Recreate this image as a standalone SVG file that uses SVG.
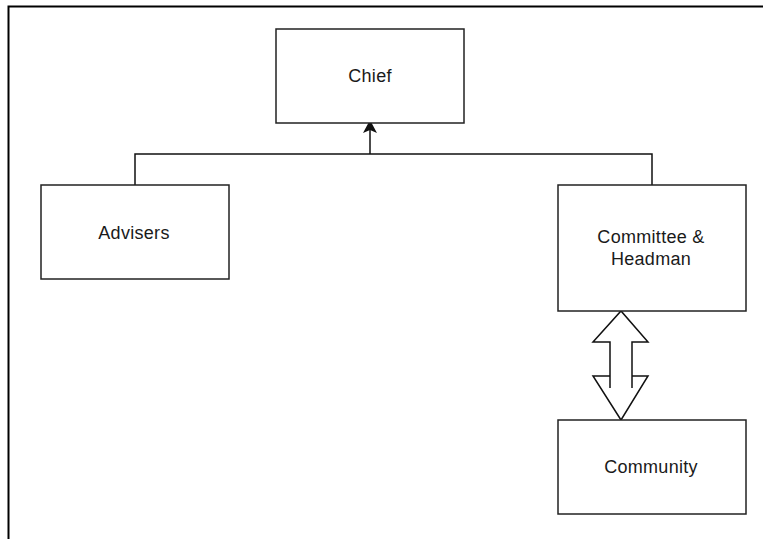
<svg xmlns="http://www.w3.org/2000/svg" width="763" height="539" viewBox="0 0 763 539">
<style>
.box{fill:#fff;stroke:#222;stroke-width:1.5}
.lbl{font-family:"Liberation Sans",Arial,sans-serif;font-size:18px;fill:#1a1a1a;text-anchor:middle;dominant-baseline:middle;letter-spacing:0.3px}
.con{fill:none;stroke:#111;stroke-width:1.5}
</style>
<defs>
<marker id="ah" markerWidth="12" markerHeight="14" refX="6" refY="7" orient="auto" markerUnits="userSpaceOnUse">
<path d="M0,0 L13,7 L0,14 L3,7 Z" fill="#111"/>
</marker>
</defs>
<rect x="0" y="0" width="763" height="539" fill="#fff"/>
<path d="M8.5,539 L8.5,6.5 L763,6.5" fill="none" stroke="#000" stroke-width="2"/>
<g id="connectors">
<path class="con" d="M135,185 L135,154 L652,154 L652,185"/>
<path class="con" stroke-width="2" d="M370,154 L370,127" marker-end="url(#ah)"/>
<path class="con" stroke-linejoin="miter" d="M610,388 L610,342 L593,342 L621,311 L648,342 L632,342 L632,388"/>
<path class="con" stroke-linejoin="miter" d="M610,376 L593,376 L621,420 L648,376 L632,376"/>
</g>
<g id="chief"><rect class="box" x="276" y="29" width="188" height="94"/><text class="lbl" x="370" y="77">Chief</text></g>
<g id="advisers"><rect class="box" x="41" y="185" width="188" height="94"/><text class="lbl" x="134" y="234">Advisers</text></g>
<g id="committee"><rect class="box" x="558" y="185" width="188" height="126"/><text class="lbl" x="651" y="238">Committee &amp;</text><text class="lbl" x="651" y="260">Headman</text></g>
<g id="community"><rect class="box" x="558" y="420" width="188" height="94"/><text class="lbl" x="651" y="468">Community</text></g>
</svg>
